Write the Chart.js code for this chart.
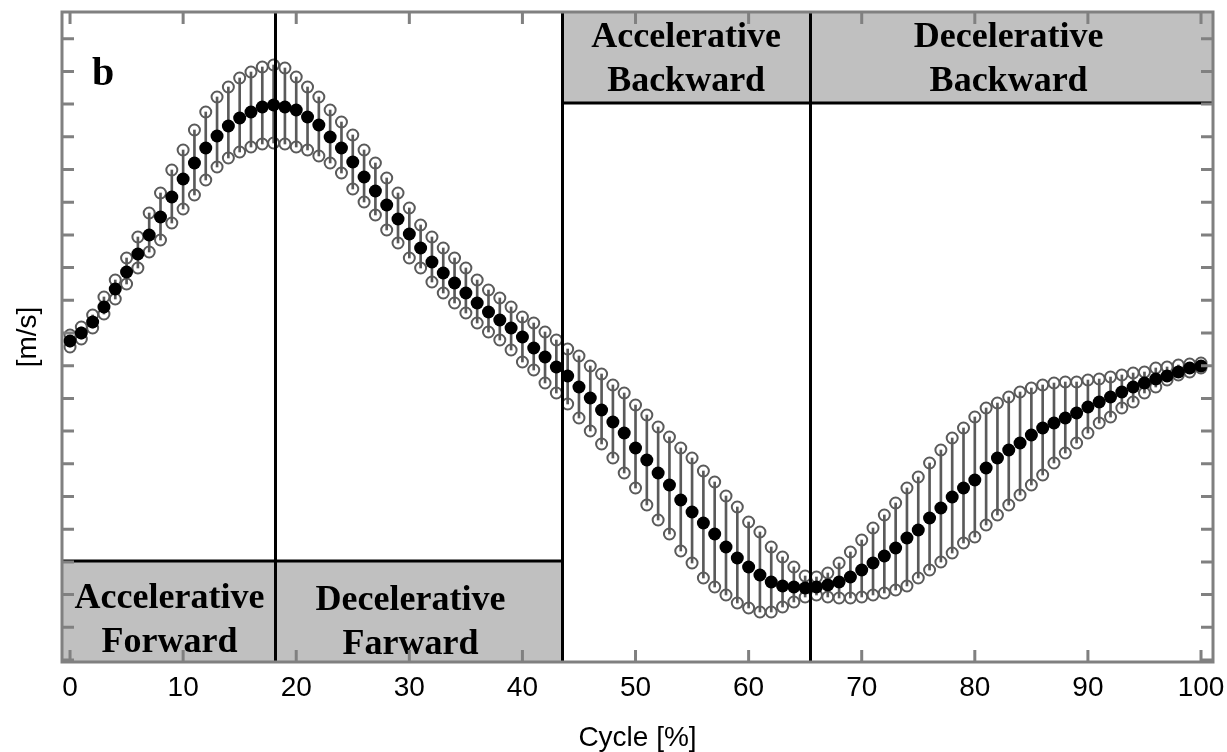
<!DOCTYPE html>
<html>
<head>
<meta charset="utf-8">
<script src="https://cdn.jsdelivr.net/npm/chart.js@4.4.0/dist/chart.umd.min.js"></script>
<style>
    html, body { margin: 0; padding: 0; background: #fff; }
    #wrap { width: 1227px; height: 752px; }
</style>
</head>
<body>
<div id="wrap"><canvas id="cycleChart" width="1227" height="752"></canvas></div>
<script>
// Cycle [%] from 0 to 100, one sample per percent
const cycle = Array.from({ length: 101 }, (_, i) => i);

// mean velocity (filled dots), arbitrary units
const meanVel = [
    3.19, 3.27, 3.38, 3.53, 3.71, 3.88, 4.06, 4.25, 4.43, 4.63,
    4.81, 4.97, 5.12, 5.24, 5.34, 5.42, 5.48, 5.53, 5.55, 5.53,
    5.50, 5.43, 5.35, 5.23, 5.12, 4.98, 4.83, 4.69, 4.55, 4.41,
    4.26, 4.12, 3.98, 3.87, 3.77, 3.67, 3.57, 3.48, 3.40, 3.32,
    3.23, 3.12, 3.03, 2.93, 2.84, 2.73, 2.62, 2.50, 2.38, 2.27,
    2.12, 2.00, 1.87, 1.75, 1.60, 1.48, 1.37, 1.26, 1.13, 1.02,
    0.93, 0.85, 0.78, 0.74, 0.73, 0.72, 0.73, 0.75, 0.78, 0.83,
    0.90, 0.97, 1.04, 1.12, 1.22, 1.30, 1.42, 1.52, 1.63, 1.72,
    1.80, 1.92, 2.02, 2.10, 2.17, 2.25, 2.32, 2.37, 2.42, 2.47,
    2.53, 2.58, 2.63, 2.68, 2.73, 2.77, 2.81, 2.84, 2.88, 2.92, 2.94
];

// mean + SD (open circles, top)
const upperVel = [
    3.25, 3.33, 3.45, 3.63, 3.80, 4.02, 4.23, 4.47, 4.67, 4.90,
    5.10, 5.30, 5.48, 5.63, 5.73, 5.82, 5.88, 5.93, 5.95, 5.92,
    5.83, 5.73, 5.63, 5.50, 5.38, 5.25, 5.10, 4.97, 4.82, 4.67,
    4.52, 4.35, 4.23, 4.12, 4.02, 3.92, 3.80, 3.70, 3.62, 3.53,
    3.43, 3.37, 3.28, 3.20, 3.11, 3.04, 2.94, 2.86, 2.75, 2.67,
    2.55, 2.45, 2.33, 2.23, 2.12, 2.02, 1.89, 1.78, 1.64, 1.53,
    1.38, 1.28, 1.13, 1.03, 0.93, 0.84, 0.83, 0.87, 0.97, 1.08,
    1.20, 1.32, 1.45, 1.57, 1.72, 1.83, 1.97, 2.10, 2.22, 2.32,
    2.43, 2.52, 2.57, 2.63, 2.68, 2.72, 2.75, 2.77, 2.78, 2.78,
    2.80, 2.81, 2.83, 2.85, 2.87, 2.88, 2.92, 2.93, 2.95, 2.96, 2.97
];

// mean - SD (open circles, bottom)
const lowerVel = [
    3.13, 3.21, 3.32, 3.46, 3.61, 3.76, 3.92, 4.08, 4.20, 4.37,
    4.51, 4.65, 4.80, 4.93, 5.02, 5.08, 5.13, 5.16, 5.17, 5.16,
    5.13, 5.10, 5.04, 4.97, 4.87, 4.71, 4.58, 4.45, 4.30, 4.17,
    4.02, 3.92, 3.78, 3.67, 3.57, 3.47, 3.37, 3.28, 3.20, 3.10,
    2.98, 2.90, 2.77, 2.67, 2.56, 2.42, 2.29, 2.16, 2.02, 1.87,
    1.72, 1.55, 1.40, 1.26, 1.09, 0.97, 0.82, 0.73, 0.65, 0.57,
    0.52, 0.48, 0.48, 0.53, 0.58, 0.63, 0.65, 0.63, 0.62, 0.62,
    0.63, 0.65, 0.67, 0.70, 0.74, 0.82, 0.90, 0.98, 1.07, 1.17,
    1.23, 1.35, 1.45, 1.55, 1.65, 1.75, 1.85, 1.97, 2.07, 2.17,
    2.27, 2.37, 2.43, 2.52, 2.58, 2.67, 2.73, 2.80, 2.85, 2.88, 2.92
];

const xTickValues = [0, 10, 20, 30, 40, 50, 60, 70, 80, 90, 100];
const xTickLabels = ['0', '10', '20', '30', '40', '50', '60', '70', '80', '90', '100'];

// phase limits in cycle %
const phaseLimits = [18.13, 43.5, 65.45];
const phaseNames = [
    ['Accelerative', 'Forward'],
    ['Decelerative', 'Farward'],
    ['Accelerative', 'Backward'],
    ['Decelerative', 'Backward']
];

const xMin = -0.71, xMax = 101.06;
const yMin = -0.02, yMax = 6.48;
const yTickStep = 0.327;
const yTickValues = Array.from({ length: 20 }, (_, k) => +(k * yTickStep).toFixed(3));

const GRAY = '#5a5a5a';
const FRAME = '#808080';
const BOX = '#c0c0c0';

// boxes with the phase names, bands and the frame
const phasePlugin = {
    id: 'phases',
    beforeDatasetsDraw(chart) {
        const { ctx, chartArea: a, scales: { x, y } } = chart;
        const p1 = x.getPixelForValue(phaseLimits[0]);
        const p2 = x.getPixelForValue(phaseLimits[1]);
        const p3 = x.getPixelForValue(phaseLimits[2]);
        const lowTop = y.getPixelForValue(0.99);
        const highBottom = y.getPixelForValue(5.57);

        const boxes = [
            { x0: a.left, x1: p1, y0: lowTop, y1: a.bottom, shift: 1, base: 47 },
            { x0: p1, x1: p2, y0: lowTop, y1: a.bottom, shift: -8, base: 49 },
            { x0: p2, x1: p3, y0: a.top, y1: highBottom, shift: 0, base: 35 },
            { x0: p3, x1: a.right, y0: a.top, y1: highBottom, shift: -3, base: 35 }
        ];

        ctx.save();
        boxes.forEach((b, i) => {
            ctx.fillStyle = BOX;
            ctx.fillRect(b.x0, b.y0, b.x1 - b.x0, b.y1 - b.y0);
            ctx.fillStyle = '#000';
            ctx.font = 'bold 36px "Liberation Serif", "Times New Roman", serif';
            ctx.textAlign = 'center';
            ctx.textBaseline = 'alphabetic';
            const cx = (b.x0 + b.x1) / 2 + b.shift;
            phaseNames[i].forEach((line, j) => {
                ctx.fillText(line, cx, b.y0 + b.base + j * 44);
            });
        });

        // black border lines of the bands
        ctx.strokeStyle = '#000';
        ctx.lineWidth = 3;
        ctx.beginPath();
        ctx.moveTo(a.left, lowTop);
        ctx.lineTo(p2, lowTop);
        ctx.moveTo(p2, highBottom);
        ctx.lineTo(a.right, highBottom);
        ctx.stroke();
        ctx.restore();
    },
    afterDatasetsDraw(chart) {
        const { ctx, chartArea: a, scales: { x, y } } = chart;
        ctx.save();

        // phase separators
        ctx.strokeStyle = '#000';
        ctx.lineWidth = 3;
        ctx.beginPath();
        phaseLimits.forEach(v => {
            const px = Math.round(x.getPixelForValue(v)) + 0.5;
            ctx.moveTo(px, a.top);
            ctx.lineTo(px, a.bottom);
        });
        ctx.stroke();

        // frame
        ctx.strokeStyle = FRAME;
        ctx.lineWidth = 3;
        ctx.strokeRect(a.left, a.top, a.right - a.left, a.bottom - a.top);

        // inward ticks
        const len = 12;
        ctx.beginPath();
        xTickValues.forEach(v => {
            const px = x.getPixelForValue(v);
            ctx.moveTo(px, a.bottom);
            ctx.lineTo(px, a.bottom - len);
            ctx.moveTo(px, a.top);
            ctx.lineTo(px, a.top + len);
        });
        yTickValues.forEach(v => {
            const py = y.getPixelForValue(v);
            ctx.moveTo(a.left, py);
            ctx.lineTo(a.left + len, py);
            ctx.moveTo(a.right, py);
            ctx.lineTo(a.right - len, py);
        });
        ctx.stroke();

        // panel letter
        ctx.fillStyle = '#000';
        ctx.font = 'bold 40px "Liberation Serif", "Times New Roman", serif';
        ctx.textAlign = 'left';
        ctx.textBaseline = 'alphabetic';
        ctx.fillText('b', a.left + 30, a.top + 73);
        ctx.restore();
    }
};

const ctx = document.getElementById('cycleChart').getContext('2d');
const chart = new Chart(ctx, {
    type: 'line',
    data: {
        datasets: [
            {
                label: 'mean',
                data: cycle.map((c, i) => ({ x: c, y: meanVel[i] })),
                showLine: false,
                pointStyle: 'circle',
                pointRadius: 6.5,
                pointBorderWidth: 0,
                pointBackgroundColor: '#000',
                pointBorderColor: '#000'
            },
            {
                label: '+SD',
                data: cycle.map((c, i) => ({ x: c, y: upperVel[i] })),
                showLine: false,
                pointStyle: 'circle',
                pointRadius: 5.5,
                pointBorderWidth: 2,
                pointBackgroundColor: 'rgba(0,0,0,0)',
                pointBorderColor: GRAY
            },
            {
                label: '-SD',
                data: cycle.map((c, i) => ({ x: c, y: lowerVel[i] })),
                showLine: false,
                pointStyle: 'circle',
                pointRadius: 5.5,
                pointBorderWidth: 2,
                pointBackgroundColor: 'rgba(0,0,0,0)',
                pointBorderColor: GRAY
            },
            {
                type: 'bar',
                label: 'SD range',
                data: cycle.map((c, i) => ({ x: c, y: [lowerVel[i], upperVel[i]] })),
                backgroundColor: GRAY,
                borderWidth: 0,
                barThickness: 2,
                grouped: false
            }
        ]
    },
    options: {
        responsive: false,
        animation: false,
        devicePixelRatio: 1,
        layout: {
            padding: { left: 0, right: 14, top: 12, bottom: 0 }
        },
        plugins: {
            legend: { display: false },
            tooltip: { enabled: false }
        },
        scales: {
            x: {
                type: 'linear',
                min: xMin,
                max: xMax,
                offset: false,
                grid: { display: false, drawTicks: false },
                border: { display: false },
                afterBuildTicks: scale => {
                    scale.ticks = xTickValues.map(v => ({ value: v }));
                },
                afterFit: scale => {
                    scale.height = 90;
                    scale.paddingLeft = 0;
                    scale.paddingRight = 0;
                },
                ticks: {
                    autoSkip: false,
                    maxRotation: 0,
                    padding: 9,
                    color: '#000',
                    font: { family: '"Liberation Sans", Arial, sans-serif', size: 28 },
                    callback: v => xTickLabels[xTickValues.indexOf(v)]
                },
                title: {
                    display: true,
                    text: 'Cycle [%]',
                    color: '#000',
                    font: { family: '"Liberation Sans", Arial, sans-serif', size: 28, lineHeight: 1 },
                    padding: { top: 0, bottom: 0 }
                }
            },
            y: {
                type: 'linear',
                min: yMin,
                max: yMax,
                grid: { display: false, drawTicks: false },
                border: { display: false },
                afterBuildTicks: scale => {
                    scale.ticks = yTickValues.map(v => ({ value: v }));
                },
                afterFit: scale => { scale.width = 62; },
                ticks: { display: false },
                title: {
                    display: true,
                    text: '[m/s]',
                    color: '#000',
                    font: { family: '"Liberation Sans", Arial, sans-serif', size: 28, lineHeight: 1 },
                    padding: { top: 14, bottom: 0 }
                }
            }
        }
    },
    plugins: [phasePlugin]
});
</script>
</body>
</html>
